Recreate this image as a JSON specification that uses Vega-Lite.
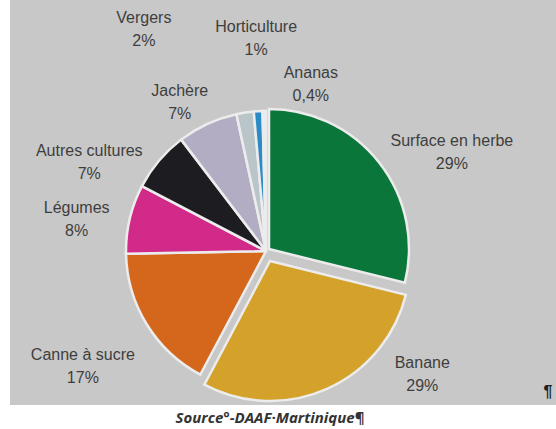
{
  "$schema": "https://vega.github.io/schema/vega-lite/v6.json",
  "autosize": {"type": "fit", "contains": "padding"},
  "width": 556,
  "height": 429,
  "padding": {"left": 10, "top": 0, "right": 0, "bottom": 4},
  "background": "#ffffff",
  "view": {"fill": "#c8c8c8", "stroke": null},
  "title": {
    "text": "Source°-DAAF·Martinique¶",
    "orient": "bottom",
    "anchor": "middle",
    "offset": 5,
    "dx": -13,
    "font": "Open Sans",
    "fontSize": 15,
    "fontStyle": "italic",
    "fontWeight": "bold",
    "color": "#333333"
  },
  "layer": [
    {
      "data": {
        "values": [
          {"nom": "Surface en herbe", "val": 29, "pct": "29%"},
          {"nom": "Banane", "val": 29, "pct": "29%"},
          {"nom": "Canne à sucre", "val": 17, "pct": "17%"},
          {"nom": "Légumes", "val": 8, "pct": "8%"},
          {"nom": "Autres cultures", "val": 7, "pct": "7%"},
          {"nom": "Jachère", "val": 7, "pct": "7%"},
          {"nom": "Vergers", "val": 2, "pct": "2%"},
          {"nom": "Horticulture", "val": 1, "pct": "1%"},
          {"nom": "Ananas", "val": 0.4, "pct": "0,4%"}
        ]
      },
      "transform": [
        {"window": [{"op": "row_number", "as": "idx"}]},
        {"calculate": "datum.nom + '\\n' + datum.pct", "as": "lab"}
      ],
      "encoding": {
        "theta": {"field": "val", "type": "quantitative", "stack": true},
        "order": {"field": "idx", "type": "quantitative"},
        "color": {
          "field": "nom",
          "type": "nominal",
          "legend": null,
          "scale": {
            "domain": ["Surface en herbe", "Banane", "Canne à sucre", "Légumes", "Autres cultures", "Jachère", "Vergers", "Horticulture", "Ananas"],
            "range": ["#0a763a", "#d4a12b", "#d4671c", "#d12a88", "#1d1d21", "#b3adc3", "#b9c5c9", "#2a8bc6", "#e4ecee"]
          }
        }
      },
      "layer": [
        {
          "mark": {"type": "arc", "outerRadius": 140, "x": 256, "y": 251, "stroke": "#ececec", "strokeWidth": 2.5},
          "encoding": {
            "opacity": {
              "condition": {"test": "datum.nom === 'Banane' || datum.nom === 'Surface en herbe'", "value": 0},
              "value": 1
            }
          }
        },
        {
          "mark": {"type": "arc", "outerRadius": 140, "x": 259, "y": 249, "stroke": "#ececec", "strokeWidth": 2.5},
          "encoding": {
            "opacity": {
              "condition": {"test": "datum.nom === 'Surface en herbe'", "value": 1},
              "value": 0
            }
          }
        },
        {
          "mark": {"type": "arc", "outerRadius": 140, "x": 260, "y": 261, "stroke": "#ececec", "strokeWidth": 2.5},
          "encoding": {
            "opacity": {
              "condition": {"test": "datum.nom === 'Banane'", "value": 1},
              "value": 0
            }
          }
        },
        {
          "mark": {
            "type": "text",
            "x": 256,
            "y": 251,
            "radius": 175,
            "font": "Liberation Sans",
            "fontSize": 16,
            "lineBreak": "\n",
            "lineHeight": 23,
            "align": "center",
            "baseline": "middle",
            "color": "#3e3e3e",
            "dx": {"expr": "datum.nom === 'Surface en herbe' ? 48 : datum.nom === 'Banane' ? 85 : datum.nom === 'Canne à sucre' ? -34 : datum.nom === 'Légumes' ? -19 : datum.nom === 'Autres cultures' ? -43 : datum.nom === 'Jachère' ? -13 : datum.nom === 'Vergers' ? -96 : datum.nom === 'Horticulture' ? 0 : 47"},
            "dy": {"expr": "datum.nom === 'Surface en herbe' ? -2 : datum.nom === 'Banane' ? -48 : datum.nom === 'Canne à sucre' ? 12 : datum.nom === 'Légumes' ? -3 : datum.nom === 'Autres cultures' ? 13 : datum.nom === 'Jachère' ? -1 : datum.nom === 'Vergers' ? -60 : datum.nom === 'Horticulture' ? -49 : -3"}
          },
          "encoding": {
            "text": {"field": "lab", "type": "nominal"},
            "color": {"value": "#3e3e3e"}
          }
        }
      ]
    },
    {
      "data": {"values": [{"t": "¶"}]},
      "mark": {"type": "text", "x": {"expr": "width - 8"}, "y": {"expr": "height - 13"}, "font": "Liberation Sans", "fontSize": 16, "fontWeight": "bold", "color": "#222222"},
      "encoding": {"text": {"field": "t", "type": "nominal"}}
    }
  ]
}
